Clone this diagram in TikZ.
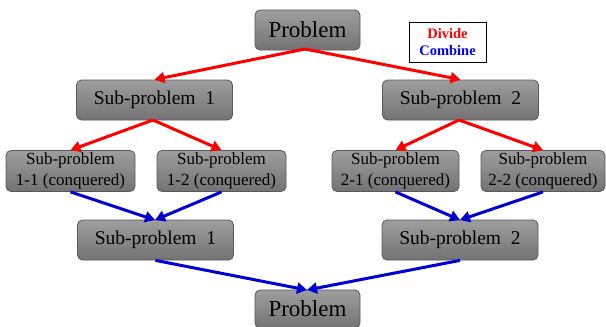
\documentclass[tikz,border=0pt]{standalone}
\usepackage{fontspec}
\setmainfont{Liberation Serif}
\usetikzlibrary{arrows.meta}
\begin{document}
\begin{tikzpicture}[x=1pt,y=-1pt,
  box/.style={draw=black!65, line width=0.8pt, rounded corners=5pt,
    top color=black!38, bottom color=black!55, inner sep=0pt, align=center},
  bigbox/.style={box, minimum width=105pt, minimum height=40pt, font=\fontsize{23}{25}\selectfont},
  midbox/.style={box, minimum width=156pt, minimum height=40pt, font=\fontsize{19.5}{22}\selectfont},
  smallbox/.style={box, minimum height=41pt, font=\fontsize{17}{20.5}\selectfont},
  div/.style={draw={rgb,255:red,255;green,0;blue,0}, line width=3pt, -{Triangle[length=10pt,width=11pt]}},
  com/.style={draw={rgb,255:red,0;green,0;blue,210}, line width=3pt, -{Triangle[length=10pt,width=11pt]}}
]
\useasboundingbox (0,0) rectangle (606,327);
\node[bigbox] (p) at (307.5,30) {Problem};
\node[draw=black, line width=1pt, minimum width=77pt, minimum height=40pt, inner sep=0pt, align=center,
  font=\bfseries\fontsize{14.5}{17}\selectfont] (leg) at (447.5,42)
  {\textcolor{red}{Divide}\\\textcolor{blue}{Combine}};
\node[midbox] (s1) at (154.5,100) {Sub-problem\ \ 1};
\node[midbox] (s2) at (460.5,100) {Sub-problem\ \ 2};
\node[smallbox, minimum width=129pt] (s11) at (70.5,171) {Sub-problem\\1-1 (conquered)};
\node[smallbox, minimum width=129pt] (s12) at (221.5,171) {Sub-problem\\1-2 (conquered)};
\node[smallbox, minimum width=127pt] (s21) at (395.5,171) {Sub-problem\\2-1 (conquered)};
\node[smallbox, minimum width=124pt] (s22) at (543,171) {Sub-problem\\2-2 (conquered)};
\node[midbox] (c1) at (155.5,240) {Sub-problem\ \ 1};
\node[midbox] (c2) at (460,240) {Sub-problem\ \ 2};
\node[bigbox, minimum height=38pt] (q) at (307.5,309) {Problem};
% divide arrows
\coordinate (pb) at (305,49);
\draw[div] (pb) -- (s1.north);
\draw[div] (pb) -- (s2.north);
\coordinate (s1b) at (153,120);
\draw[div] (s1b) -- (s11.north);
\draw[div] (s1b) -- (s12.north);
\coordinate (s2b) at (459,120);
\draw[div] (s2b) -- (s21.north);
\draw[div] (s2b) -- (s22.north);
% combine arrows
\coordinate (c1t) at (155,220);
\draw[com] (s11.south) -- (c1t);
\draw[com] (s12.south) -- (c1t);
\coordinate (c2t) at (460,220);
\draw[com] (s21.south) -- (c2t);
\draw[com] (s22.south) -- (c2t);
\coordinate (qt) at (307,290);
\draw[com] (c1.south) -- (qt);
\draw[com] (c2.south) -- (qt);
\end{tikzpicture}
\end{document}
